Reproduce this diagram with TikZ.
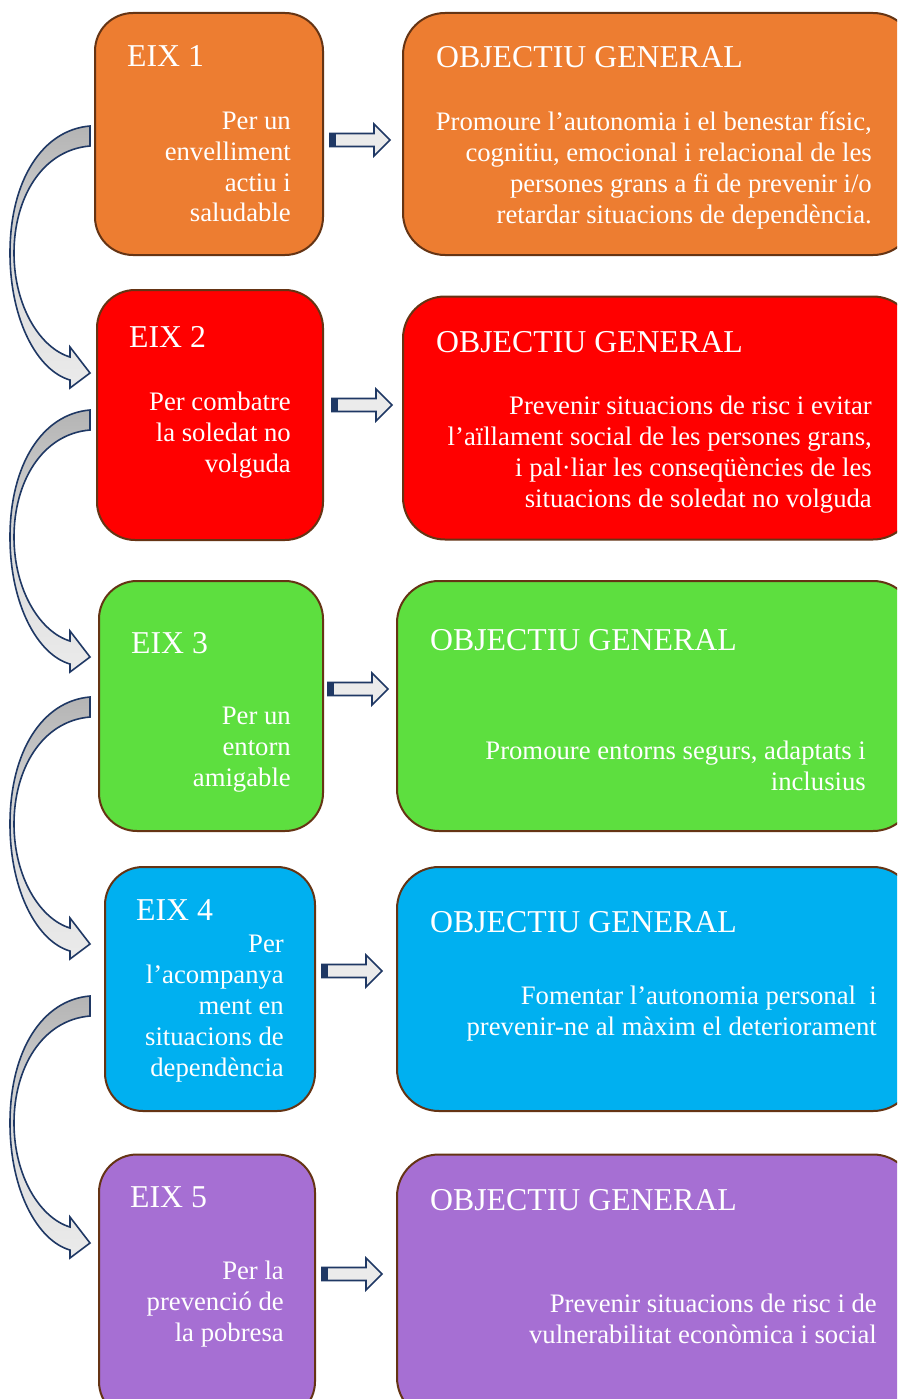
\documentclass[tikz,border=0pt]{standalone}
\usepackage{fontspec}
\setmainfont{Liberation Serif}

\definecolor{eixorange}{HTML}{ED7D31}
\definecolor{eixred}{HTML}{FF0000}
\definecolor{eixgreen}{HTML}{5DDF3F}
\definecolor{eixblue}{HTML}{00B0F0}
\definecolor{eixpurple}{HTML}{A66FD3}
\definecolor{boxbrown}{HTML}{653414}
\definecolor{arrownavy}{HTML}{1F3864}
\definecolor{arrowgray}{HTML}{B4B4B4}
\definecolor{arrowlight}{HTML}{EBEBEB}

\tikzset{
  axisbox/.style={rectangle, rounded corners=38, draw=boxbrown, line width=2, inner sep=0},
  eixtitle/.style={anchor=base west, inner sep=0, text=white, font=\fontsize{31.8}{36}\selectfont},
  % anchored at the baseline of the last line
  eixtext/.style={anchor=base east, inner sep=0, text=white, align=right, font=\fontsize{26.7}{30.8}\selectfont},
  arrowline/.style={draw=arrownavy, line width=1.6, line join=miter}
}

\begin{document}
\begin{tikzpicture}[x=1pt,y=-1pt]
  \clip (0,0) rectangle (897,1399);
  \fill[white] (0,0) rectangle (897,1399);

  % left column: the five axes
  \node[axisbox, fill=eixorange, minimum width=228, minimum height=242] (eix1) at (209,134)  {};
  \node[axisbox, fill=eixred,    minimum width=226, minimum height=250] (eix2) at (210,415)  {};
  \node[axisbox, fill=eixgreen,  minimum width=224, minimum height=250] (eix3) at (211,706)  {};
  \node[axisbox, fill=eixblue,   minimum width=210, minimum height=244] (eix4) at (210,989)  {};
  \node[axisbox, fill=eixpurple, minimum width=216, minimum height=265] (eix5) at (207,1287) {};

  % right column: general objectives
  \node[axisbox, rounded corners=42, fill=eixorange, minimum width=512, minimum height=242] (obj1) at (659,134)  {};
  \node[axisbox, rounded corners=42, fill=eixred,    minimum width=512, minimum height=243] (obj2) at (659,418)  {};
  \node[axisbox, rounded corners=42, fill=eixgreen,  minimum width=518, minimum height=250] (obj3) at (656,706)  {};
  \node[axisbox, rounded corners=42, fill=eixblue,   minimum width=518, minimum height=244] (obj4) at (656,989)  {};
  \node[axisbox, rounded corners=42, fill=eixpurple, minimum width=518, minimum height=265] (obj5) at (656,1287) {};

  % texts
  \node[eixtitle] (t1) at (127,67)   {EIX 1};
  \node[eixtext]  (d1) at (291,222)  {Per un\\envelliment\\actiu i\\saludable};
  \node[eixtitle] (u1) at (436,68)   {OBJECTIU GENERAL};
  \node[eixtext]  (e1) at (872,223)  {Promoure l’autonomia i el benestar físic,\\cognitiu, emocional i relacional de les\\persones grans a fi de prevenir i/o\\retardar situacions de dependència.};

  \node[eixtitle] (t2) at (129,347)  {EIX 2};
  \node[eixtext]  (d2) at (291,472)  {Per combatre\\la soledat no\\volguda};
  \node[eixtitle] (u2) at (436,352)  {OBJECTIU GENERAL};
  \node[eixtext]  (e2) at (872,507)  {Prevenir situacions de risc i evitar\\l’aïllament social de les persones grans,\\i pal·liar les conseqüències de les\\situacions de soledat no volguda};

  \node[eixtitle] (t3) at (131,653)  {EIX 3};
  \node[eixtext]  (d3) at (291,786)  {Per un\\entorn\\amigable};
  \node[eixtitle] (u3) at (430,650)  {OBJECTIU GENERAL};
  \node[eixtext]  (e3) at (866,790)  {Promoure entorns segurs, adaptats i\\inclusius};

  \node[eixtitle] (t4) at (136,920)  {EIX 4};
  \node[eixtext]  (d4) at (284,1076) {Per\\l’acompanya\\ment en\\situacions de\\dependència};
  \node[eixtitle] (u4) at (430,932)  {OBJECTIU GENERAL};
  \node[eixtext]  (e4) at (877,1035) {Fomentar l’autonomia personal~ i\\prevenir-ne al màxim el deteriorament};

  \node[eixtitle] (t5) at (130,1207) {EIX 5};
  \node[eixtext]  (d5) at (284,1341) {Per la\\prevenció de\\la pobresa};
  \node[eixtitle] (u5) at (430,1210) {OBJECTIU GENERAL};
  \node[eixtext]  (e5) at (877,1343) {Prevenir situacions de risc i de\\vulnerabilitat econòmica i social};

  % block arrows from each axis to its objective
  \foreach \x/\y in {330/140, 332/405, 328/689, 322/971, 322/1274} {
    \begin{scope}[shift={(\x,\y)}]
      \path[arrowline, fill=arrowlight] (0,-6.5) -- (44,-6.5) -- (44,-16) -- (60,0)
        -- (44,16) -- (44,6.5) -- (0,6.5) -- cycle;
      \fill[arrownavy] (0,-6.5) rectangle (6,6.5);
    \end{scope}
  }

  % curved arrows from one axis down to the next
  \foreach \y in {126, 410, 697, 996} {
    \begin{scope}[shift={(90,\y)}]
      \shade[arrowline, top color=arrowgray, bottom color=arrowlight, middle color=arrowlight!70!arrowgray]
        (0,0) .. controls (-48,4) and (-80,55) .. (-80,127)
        .. controls (-80,195) and (-52,245) .. (-20,254)
        -- (-20,262) -- (0,247) -- (-20,221) -- (-20,231)
        .. controls (-50,222) and (-76,180) .. (-76,127)
        .. controls (-76,72) and (-48,24) .. (0,20) -- cycle;
    \end{scope}
  }
\end{tikzpicture}
\end{document}
